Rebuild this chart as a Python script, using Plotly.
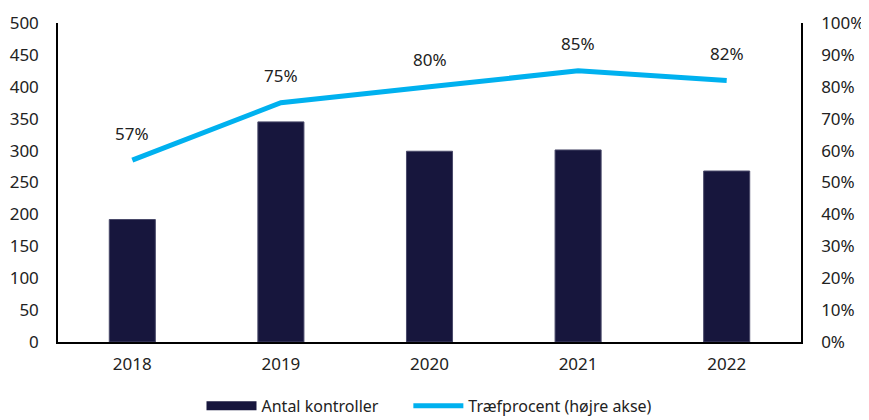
import plotly.graph_objects as go

years = ["2018", "2019", "2020", "2021", "2022"]
antal = [192, 345, 299, 301, 268]
traef = [57, 75, 80, 85, 82]
left_ticks = list(range(0, 501, 50))
right_ticks = list(range(0, 101, 10))

navy = "#17163d"
blue = "#00b1ef"
font_family = "'Noto Sans', 'Open Sans', sans-serif"
fs = 17

fig = go.Figure()
fig.add_trace(go.Bar(
    x=years, y=antal, name="Antal kontroller", marker_color=navy,
    marker_line=dict(color="#4a4a6a", width=1), width=0.31, showlegend=False,
))
fig.add_trace(go.Scatter(
    x=years, y=traef, yaxis="y2", mode="lines", name="Træfprocent (højre akse)",
    line=dict(color=blue, width=5), showlegend=False,
))
# legend proxies
fig.add_trace(go.Scatter(x=[years[0]], y=[None], mode="lines",
                         name="Antal kontroller" + "\u00a0" * 6,
                         line=dict(color=navy, width=9)))
fig.add_trace(go.Scatter(x=[years[0]], y=[None], mode="lines", name="Træfprocent (højre akse)",
                         line=dict(color=blue, width=5)))

for i, v in enumerate(traef):
    fig.add_annotation(x=i, y=v, xref="x", yref="y2", text=f"{v}%", showarrow=False,
                       yshift=27, font=dict(size=fs, color="#222", family=font_family))

fig.update_layout(
    width=861, height=412,
    margin=dict(l=50, r=68, t=15, b=78, autoexpand=False),
    plot_bgcolor="white", paper_bgcolor="white",
    font=dict(family=font_family, size=fs, color="#222"),
    xaxis=dict(type="category", categoryorder="array", categoryarray=years,
               range=[-0.5, len(years) - 0.5], autorange=False, automargin=False,
               showline=True, linecolor="black", linewidth=1.5, showgrid=False,
               ticks="", tickfont=dict(size=fs), ticklabelstandoff=6),
    yaxis=dict(range=[0, 500], tickvals=left_ticks, showline=True, linecolor="black",
               linewidth=1.5, showgrid=False, zeroline=False, ticks="", tickfont=dict(size=fs),
               ticklabelstandoff=14, automargin=False),
    yaxis2=dict(range=[0, 100], tickvals=right_ticks, ticktext=[f"{t}%" for t in right_ticks],
                overlaying="y", side="right", showline=True, linecolor="black", linewidth=1.5,
                showgrid=False, zeroline=False, ticks="", tickfont=dict(size=fs),
                ticklabelstandoff=15, automargin=False),
    legend=dict(orientation="h", x=0.5, xanchor="center", y=-0.2, yanchor="middle",
                font=dict(size=16, color="#222"), itemwidth=50),
)

fig.write_html("out.html")
